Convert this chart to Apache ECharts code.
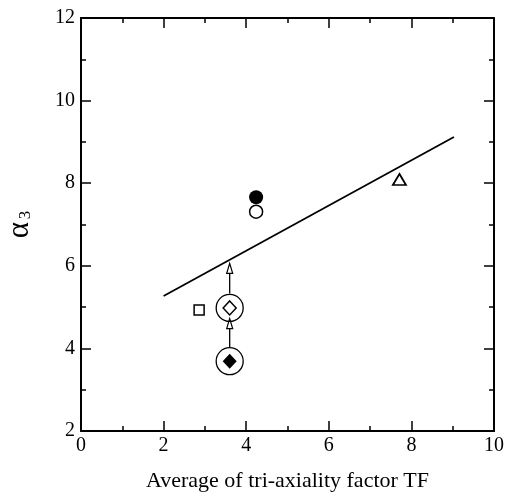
<!DOCTYPE html>
<html>
<head>
<meta charset="utf-8">
<script src="https://cdn.jsdelivr.net/npm/echarts@6/dist/echarts.min.js"></script>
<style>html,body{margin:0;padding:0;background:#fff}#c{width:508px;height:496px}</style>
</head>
<body>
<div id="c"></div>
<script>
// Data
var filledCircle = [[4.24, 7.66]];
var openCircle = [[4.24, 7.31]];
var openTriangle = [[7.71, 8.09]];
var openSquare = [[2.86, 4.93]];
var openDiamond = [[3.6, 4.98]];
var filledDiamond = [[3.6, 3.69]];
var ringedPoints = [[3.6, 4.98], [3.6, 3.69]];
var fitLine = [[2.0, 5.27], [9.03, 9.12]];
// arrows: [x, yStart, yEnd]
var arrows = [[3.6, 4.03, 4.72], [3.6, 5.33, 6.06]];
var xTicks = [0, 2, 4, 6, 8, 10];
var yTicks = [2, 4, 6, 8, 10, 12];

var font = '"Liberation Serif", "Times New Roman", serif';
var chart = echarts.init(document.getElementById('c'));

function axisCommon(showLabel) {
  return {
    axisLine: {show: true, onZero: false, lineStyle: {color: '#000', width: 2}},
    axisTick: {show: true, inside: true, length: 10, lineStyle: {color: '#000', width: 1.5}},
    minorTick: {show: true, splitNumber: 2, length: 5, lineStyle: {color: '#000', width: 1.5}},
    splitLine: {show: false},
    axisLabel: {show: showLabel, color: '#000', fontFamily: font, fontSize: 20}
  };
}

var xMain = Object.assign(axisCommon(true), {
  type: 'value', position: 'bottom', min: xTicks[0], max: xTicks[xTicks.length - 1], interval: 2,
  name: 'Average of tri-axiality factor TF', nameLocation: 'middle', nameGap: 39,
  nameTextStyle: {color: '#000', fontFamily: font, fontSize: 22}
});
xMain.axisLabel.margin = 5;
var xTop = Object.assign(axisCommon(false), {
  type: 'value', position: 'top', min: xTicks[0], max: xTicks[xTicks.length - 1], interval: 2
});
var yMain = Object.assign(axisCommon(true), {
  type: 'value', position: 'left', min: yTicks[0], max: yTicks[yTicks.length - 1], interval: 2,
  name: '{a|α} {s|3}', nameLocation: 'middle', nameGap: 46, nameRotate: 90,
  nameTextStyle: {
    color: '#000', fontFamily: font,
    rich: {
      a: {fontFamily: font, fontSize: 31, color: '#000'},
      s: {fontFamily: font, fontSize: 17, color: '#000', padding: [12, 0, 0, 0]}
    }
  }
});
yMain.axisLabel.margin = 6;
var yRight = Object.assign(axisCommon(false), {
  type: 'value', position: 'right', min: yTicks[0], max: yTicks[yTicks.length - 1], interval: 2
});

chart.setOption({
  animation: false,
  backgroundColor: '#fff',
  grid: {left: 81, right: 14, top: 18, bottom: 65, containLabel: false, outerBoundsMode: 'none'},
  xAxis: [xMain, xTop],
  yAxis: [yMain, yRight],
  series: [
    {type: 'line', data: fitLine, symbol: 'none', lineStyle: {color: '#000', width: 1.8}, z: 2},
    {type: 'custom', data: arrows, z: 3,
      renderItem: function (params, api) {
        var p0 = api.coord([api.value(0), api.value(1)]);
        var p1 = api.coord([api.value(0), api.value(2)]);
        var headLen = 10, headW = 3;
        return {type: 'group', children: [
          {type: 'line', shape: {x1: p0[0], y1: p0[1], x2: p1[0], y2: p1[1] + headLen},
            style: {stroke: '#000', lineWidth: 1.3}},
          {type: 'polygon', shape: {points: [[p1[0], p1[1]], [p1[0] - headW, p1[1] + headLen], [p1[0] + headW, p1[1] + headLen]]},
            style: {fill: '#fff', stroke: '#000', lineWidth: 1.2}}
        ]};
      }},
    {type: 'scatter', data: ringedPoints, symbol: 'circle', symbolSize: 27,
      itemStyle: {color: 'rgba(255,255,255,0)', borderColor: '#000', borderWidth: 1.3, opacity: 1}, z: 4},
    {type: 'scatter', data: filledCircle, symbol: 'circle', symbolSize: 14,
      itemStyle: {color: '#000', borderColor: '#000', borderWidth: 0, opacity: 1}, z: 5},
    {type: 'scatter', data: openCircle, symbol: 'circle', symbolSize: 13,
      itemStyle: {color: '#fff', borderColor: '#000', borderWidth: 1.5, opacity: 1}, z: 5},
    {type: 'scatter', data: openTriangle, symbol: 'triangle', symbolSize: [13, 11],
      itemStyle: {color: '#fff', borderColor: '#000', borderWidth: 1.8, opacity: 1}, z: 5},
    {type: 'scatter', data: openSquare, symbol: 'rect', symbolSize: 10,
      itemStyle: {color: '#fff', borderColor: '#000', borderWidth: 1.5, opacity: 1}, z: 5},
    {type: 'scatter', data: openDiamond, symbol: 'diamond', symbolSize: [13, 14],
      itemStyle: {color: '#fff', borderColor: '#000', borderWidth: 1.5, opacity: 1}, z: 5},
    {type: 'scatter', data: filledDiamond, symbol: 'diamond', symbolSize: [14, 15],
      itemStyle: {color: '#000', borderColor: '#000', borderWidth: 0, opacity: 1}, z: 5}
  ]
});
</script>
</body>
</html>
